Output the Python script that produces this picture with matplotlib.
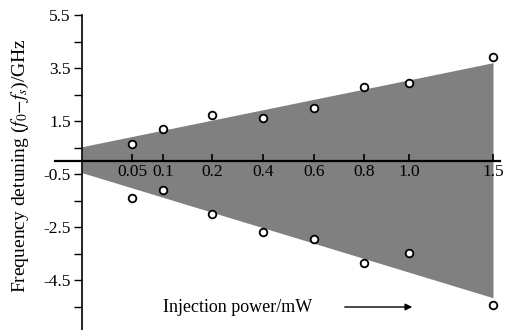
import matplotlib
matplotlib.use("Agg")
import matplotlib.pyplot as plt
import numpy as np

# data
power_labels = ["0.05", "0.1", "0.2", "0.4", "0.6", "0.8", "1.0", "1.5"]
upper_detuning = [0.64, 1.2, 1.74, 1.62, 2.0, 2.8, 2.94, 3.92]
lower_detuning = [-1.4, -1.1, -2.0, -2.68, -2.94, -3.87, -3.47, -5.43]
band_upper = [0.53, 3.7]
band_lower = [-0.45, -5.17]
y_ticks = [5.5, 4.5, 3.5, 2.5, 1.5, 0.5, -0.5, -1.5, -2.5, -3.5, -4.5, -5.5]
y_labeled = [5.5, 3.5, 1.5, -0.5, -2.5, -4.5]

# layout (display positions of the non-uniform power axis)
x_pos = [1.0, 1.62, 2.6, 3.62, 4.64, 5.64, 6.54, 8.22]
band_x = [0.0, x_pos[-1]]

plt.rcParams['font.family'] = ['Liberation Serif', 'DejaVu Serif']
plt.rcParams['mathtext.fontset'] = 'stix'

W, H = 510, 330
fig = plt.figure(figsize=(W / 100, H / 100), dpi=100)
ax_left_px, ax_right_px = 55, 500
top_px, bottom_px = 15, 330
ax = fig.add_axes([ax_left_px / W, 1 - bottom_px / H,
                   (ax_right_px - ax_left_px) / W, (bottom_px - top_px) / H])
ax.set_xlim(-0.54, 8.36)
ax.set_ylim(5.5 - (bottom_px - top_px) / 26.5, 5.5)

ax.fill_between(band_x, band_lower, band_upper, color='#808080', lw=0, zorder=1)

ax.plot(x_pos, upper_detuning, 'o', mfc='white', mec='black', ms=5.5, mew=1.3, zorder=3, clip_on=False)
ax.plot(x_pos, lower_detuning, 'o', mfc='white', mec='black', ms=5.5, mew=1.3, zorder=3, clip_on=False)

for s in ['top', 'right']:
    ax.spines[s].set_visible(False)
ax.spines['left'].set_position(('data', 0))
ax.spines['bottom'].set_position(('data', 0))
ax.spines['left'].set_linewidth(1.2)
ax.spines['bottom'].set_linewidth(1.6)
ax.spines['left'].set_zorder(4)
ax.spines['bottom'].set_zorder(4)

ax.set_yticks(y_ticks)
ax.set_yticklabels(["%.1f" % v if v in y_labeled else '' for v in y_ticks])
ax.tick_params(axis='y', direction='out', length=6, width=1.0, labelsize=12.5, pad=2)

ax.set_xticks(x_pos)
ax.set_xticklabels(power_labels)
ax.tick_params(axis='x', direction='in', length=5, width=1.2, labelsize=12.5, pad=2)

ax.set_ylabel(r"Frequency detuning ($f_0$$-$$f_s$)/GHz", fontsize=14)
ax.yaxis.set_label_coords(20 / W, 0.5, transform=fig.transFigure)
ax.yaxis.label.set_verticalalignment('center')

ax.set_xlabel("Injection power/mW", fontsize=13)
ax.xaxis.set_label_coords(238 / W, 1 - 307 / H, transform=fig.transFigure)
ax.xaxis.label.set_verticalalignment('center')

ax.annotate("", xy=(415 / W, 1 - 307 / H), xytext=(342 / W, 1 - 307 / H),
            xycoords=fig.transFigure, textcoords=fig.transFigure,
            arrowprops=dict(arrowstyle='-|>', color='black', lw=1.0,
                            mutation_scale=10))

fig.savefig("out.png", dpi=100)
